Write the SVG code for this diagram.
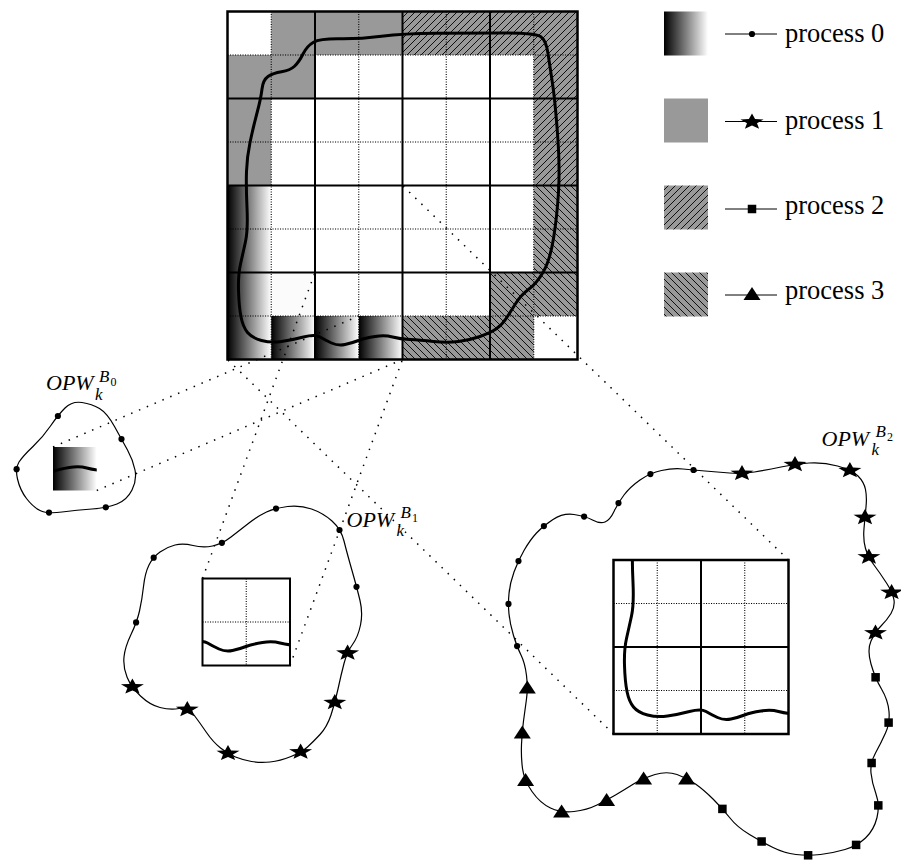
<svg xmlns="http://www.w3.org/2000/svg" width="901" height="860" viewBox="0 0 901 860">
<style>
.thin{fill:none;stroke:#000;stroke-width:1.1;stroke-dasharray:1.1 1.4}
.thick{fill:none;stroke:#000;stroke-width:2}
.border{fill:none;stroke:#000;stroke-width:2.5}
.curve{fill:none;stroke:#000;stroke-width:3;stroke-linejoin:round}
.blob{fill:none;stroke:#000;stroke-width:1.2}
.proj{fill:none;stroke:#000;stroke-width:1.5;stroke-dasharray:1.5 7}
.lg{fill:none;stroke:#000;stroke-width:1}
.mk{fill:#000}
.lbl{font-family:"Liberation Serif","Times New Roman",Times,serif;font-size:26.5px;fill:#000}
.opw{font-family:"Liberation Serif","Times New Roman",Times,serif;font-style:italic;fill:#000}
</style>
<defs>
<linearGradient id="gr" x1="0" y1="0" x2="1" y2="0">
<stop offset="0" stop-color="#000"/><stop offset="1" stop-color="#fff"/>
</linearGradient>
<pattern id="h2" patternUnits="userSpaceOnUse" width="7" height="7">
<rect width="7" height="7" fill="#999"/>
<path d="M0,7 L7,0 M-1,1 L1,-1 M6,8 L8,6" stroke="#000" stroke-width="0.9"/>
</pattern>
<pattern id="h3" patternUnits="userSpaceOnUse" width="7" height="7">
<rect width="7" height="7" fill="#999"/>
<path d="M0,0 L7,7 M-1,6 L1,8 M6,-1 L8,1" stroke="#000" stroke-width="0.9"/>
</pattern>
<path id="bigcurve" d="M540.5,36.5 Q535,33 502.5,33 Q470,33 436.5,33.25 Q403,33.5 381.5,36.25 Q360,39 340,38.75 Q320,38.5 313.5,42.25 Q307,46 303,54 Q299,62 294.5,66.25 Q290,70.5 281.5,71.75 Q273,73 268,76.5 Q263,80 262,89 Q261,98 257,113 Q253,128 250,142.5 Q247,157 246.5,171.5 Q246,186 247,208 Q248,230 245.5,241.5 Q243,253 240.5,264 Q238,275 238.5,291 Q239,307 241,317 Q243,327 247.5,332.5 Q252,338 261.5,340.5 Q271,343 281.5,341.5 Q292,340 303.5,337 Q315,334 320,337 Q325,340 331.5,343 Q338,346 345,344.5 Q352,343 358.5,340.5 Q365,338 375,336.5 Q385,335 392.5,337 Q400,339 410,339.5 Q420,340 433.5,341.5 Q447,343 458.5,341.5 Q470,340 480,336.5 Q490,333 496,329 Q502,325 506.5,318 Q511,311 516,303 Q521,295 529,289 Q537,283 543.5,271.5 Q550,260 553.5,238.5 Q557,217 558.5,192 Q560,167 557.5,133.5 Q555,100 552.5,83.5 Q550,67 548,53.5 Q546,40 540.5,36.5 Z"/>
<path id="star" d="M0,-8.4 L3.1,-2.9 L11.5,-2.6 L5.0,1.2 L7.1,6.8 L0,3.6 L-7.1,6.8 L-5.0,1.2 L-11.5,-2.6 L-3.1,-2.9 Z"/>
<path id="tri" d="M0,-7 L8.5,6 L-8.5,6 Z"/>
<rect id="sq" x="-4.25" y="-4.25" width="8.5" height="8.5"/>
<circle id="dot" r="3.1"/>
<clipPath id="c0"><rect x="53" y="447" width="43.75" height="43.5"/></clipPath>
<clipPath id="c1"><rect x="202.5" y="578.5" width="87.5" height="87"/></clipPath>
<clipPath id="c2"><rect x="613.5" y="560" width="175" height="174"/></clipPath>
</defs>
<rect width="901" height="860" fill="#fff"/>

<g id="grid">
<rect x="227.5" y="11.5" width="350" height="348" fill="#fff"/>
<rect x="271.25" y="11.5" width="131.25" height="43.5" fill="#999"/>
<rect x="227.5" y="55" width="87.5" height="43.5" fill="#999"/>
<rect x="227.5" y="98.5" width="43.75" height="87" fill="#999"/>
<rect x="402.5" y="11.5" width="175" height="43.5" fill="url(#h2)"/>
<rect x="533.75" y="55" width="43.75" height="130.5" fill="url(#h2)"/>
<rect x="533.75" y="185.5" width="43.75" height="130.5" fill="url(#h3)"/>
<rect x="490" y="272.5" width="43.75" height="43.5" fill="url(#h3)"/>
<rect x="402.5" y="316" width="131.25" height="43.5" fill="url(#h3)"/>
<rect x="227.5" y="185.5" width="43.75" height="174" fill="url(#gr)"/>
<rect x="271.25" y="316" width="43.75" height="43.5" fill="url(#gr)"/>
<rect x="315" y="316" width="43.75" height="43.5" fill="url(#gr)"/>
<rect x="358.75" y="316" width="43.75" height="43.5" fill="url(#gr)"/>
<rect x="271.25" y="272.5" width="43.75" height="43.5" fill="#fbfbfb"/>
<path class="thin" d="M271.25,11.5 V359.5 M358.75,11.5 V359.5 M446.25,11.5 V359.5 M533.75,11.5 V359.5 M227.5,55 H577.5 M227.5,142 H577.5 M227.5,229 H577.5 M227.5,316 H577.5"/>
<path class="thick" d="M315,11.5 V359.5 M402.5,11.5 V359.5 M490,11.5 V359.5 M227.5,98.5 H577.5 M227.5,185.5 H577.5 M227.5,272.5 H577.5"/>
<rect class="border" x="227.5" y="11.5" width="350" height="348"/>
<use href="#bigcurve" class="curve"/>
</g>

<g id="legend">
<rect x="664" y="11.5" width="44" height="44" fill="url(#gr)"/>
<rect x="664" y="98.5" width="44" height="44" fill="#999"/>
<rect x="664" y="185.5" width="44" height="44" fill="url(#h2)"/>
<rect x="664" y="272.5" width="44" height="44" fill="url(#h3)"/>
<path class="lg" d="M725,34 H777 M725,121.5 H777 M725,209 H777 M725,295 H777"/>
<use href="#dot" x="752" y="34" class="mk"/>
<use href="#star" x="752" y="122" class="mk"/>
<use href="#sq" x="752" y="209" class="mk"/>
<use href="#tri" x="752" y="294" class="mk"/>
<text class="lbl" x="785" y="42">process 0</text>
<text class="lbl" x="785" y="128.5">process 1</text>
<text class="lbl" x="785" y="214">process 2</text>
<text class="lbl" x="785" y="298.5">process 3</text>
</g>

<g id="blob0">
<path class="blob" d="M65,408 Q72,401 82,402.5 Q92,404 99.5,408.5 Q107,413 114.5,426.5 Q122,440 127.5,450 Q133,460 135,470 Q137,480 132,490 Q127,500 117,504 Q107,508 92,509 Q77,510 62,512 Q47,514 40,510.5 Q33,507 26.5,498.5 Q20,490 17.5,479 Q15,468 19,462 Q23,456 33,446.5 Q43,437 50.5,426 Q58,415 65,408 Z"/>
<rect x="53" y="447" width="43.75" height="43.5" fill="url(#gr)"/>
<g clip-path="url(#c0)"><use href="#bigcurve" class="curve" transform="translate(-305.75,131)"/></g>
<g class="mk">
<use href="#dot" x="121.5" y="439.1"/><use href="#dot" x="105.8" y="507.3"/><use href="#dot" x="49" y="512.6"/><use href="#dot" x="16.6" y="469.2"/><use href="#dot" x="57.9" y="416"/>
</g>
<text class="opw" x="46" y="390" font-size="22">OPW<tspan x="95" y="399.5" font-size="17">k</tspan><tspan x="99" y="382" font-size="17">B</tspan><tspan x="110.5" y="386" font-size="12" font-style="normal">0</tspan></text>
</g>

<g id="blob1">
<path class="blob" d="M149,565 Q153,557 160,552 Q167,547 175,545 Q183,543 193,545.5 Q203,548 212.5,546 Q222,544 231,537 Q240,530 249,523 Q258,516 266.5,512 Q275,508 287.5,506.5 Q300,505 311.5,509 Q323,513 332,521 Q341,529 344,541 Q347,553 352,570.5 Q357,588 360,600.5 Q363,613 360.5,625 Q358,637 352.5,644.5 Q347,652 344,663.5 Q341,675 338,689 Q335,703 331,715 Q327,727 320,734.5 Q313,742 307.5,747 Q302,752 291,756.5 Q280,761 270,762 Q260,763 251.5,761.5 Q243,760 235.5,757 Q228,754 220.5,748 Q213,742 206.5,732.5 Q200,723 194,715 Q188,707 179,708.5 Q170,710 160,707.5 Q150,705 140.5,696 Q131,687 127,677 Q123,667 124,657 Q125,647 131,634.5 Q137,622 139.5,611 Q142,600 143.5,586.5 Q145,573 149,565 Z"/>
<rect x="202.5" y="578.5" width="87.5" height="87" fill="#fff"/>
<path class="thin" d="M246.25,578.5 V665.5 M202.5,622 H290"/>
<g clip-path="url(#c1)"><use href="#bigcurve" class="curve" transform="translate(-112.5,306)"/></g>
<rect x="202.5" y="578.5" width="87.5" height="87" fill="none" stroke="#000" stroke-width="2"/>
<g class="mk">
<use href="#dot" x="153.7" y="557.7"/><use href="#dot" x="221.9" y="542.8"/><use href="#dot" x="276" y="508.6"/><use href="#dot" x="339.5" y="530"/><use href="#dot" x="356.5" y="586.8"/><use href="#dot" x="136.1" y="622.4"/>
<use href="#star" x="347.6" y="653"/><use href="#star" x="334.8" y="702.5"/><use href="#star" x="300.6" y="751.9"/><use href="#star" x="228" y="753.3"/><use href="#star" x="187.3" y="709.4"/><use href="#star" x="132.4" y="686.8"/>
</g>
<text class="opw" x="346.5" y="526.5" font-size="22">OPW<tspan x="396.5" y="535.5" font-size="17">k</tspan><tspan x="400.5" y="517.5" font-size="17">B</tspan><tspan x="412" y="521.5" font-size="12" font-style="normal">1</tspan></text>
</g>

<g id="blob2">
<path class="blob" d="M640,480 Q650,473 661.5,470.5 Q673,468 683,469 Q693,470 705,471 Q717,472 729.5,473 Q742,474 754.5,472 Q767,470 781,467 Q795,464 809,463 Q823,462 837.5,466 Q852,470 858,476 Q864,482 865.5,489.5 Q867,497 866,507 Q865,517 864,528.5 Q863,540 865.5,548.5 Q868,557 874,565 Q880,573 886.5,583 Q893,593 894,600 Q895,607 891,613.5 Q887,620 881,626 Q875,632 871,641 Q867,650 871,664 Q875,678 881.5,689 Q888,700 889,711.5 Q890,723 885.5,733 Q881,743 875.5,753 Q870,763 871,773 Q872,783 876,794 Q880,805 877,817.5 Q874,830 865.5,838 Q857,846 845,849.5 Q833,853 820.5,854.5 Q808,856 796,854.5 Q784,853 773,847.5 Q762,842 749.5,834.5 Q737,827 730,818 Q723,809 713.5,799.5 Q704,790 695.5,784 Q687,778 677,774.5 Q667,771 655,774.5 Q643,778 633.5,784 Q624,790 615.5,795 Q607,800 597,805 Q587,810 574,811.5 Q561,813 550.5,808 Q540,803 532,791.5 Q524,780 522.5,768.5 Q521,757 521.5,744.5 Q522,732 523.5,721 Q525,710 526.5,699 Q528,688 526.5,675.5 Q525,663 521,655 Q517,647 513.5,635.5 Q510,624 509,614 Q508,604 509,593.5 Q510,583 514,572 Q518,561 524,550.5 Q530,540 536.5,533 Q543,526 553,519.5 Q563,513 574,514.5 Q585,516 592.5,520 Q600,524 605,522 Q610,520 614,511.5 Q618,503 624,495 Q630,487 640,480 Z"/>
<rect x="613.5" y="560" width="175" height="174" fill="#fff"/>
<path class="thin" d="M657.25,560 V734 M744.75,560 V734 M613.5,603.5 H788.5 M613.5,690.5 H788.5"/>
<path class="thick" d="M701,560 V734 M613.5,647 H788.5"/>
<g clip-path="url(#c2)"><use href="#bigcurve" class="curve" transform="translate(386,374.5)"/></g>
<rect x="613.5" y="560" width="175" height="174" fill="none" stroke="#000" stroke-width="2.5"/>
<g class="mk">
<use href="#dot" x="650.4" y="474.1"/><use href="#dot" x="693.5" y="470"/><use href="#dot" x="618.5" y="503.1"/><use href="#dot" x="584.1" y="516.6"/><use href="#dot" x="543.9" y="526.1"/><use href="#dot" x="518.5" y="561.1"/><use href="#dot" x="508.5" y="603.9"/><use href="#dot" x="517.1" y="646.1"/>
<use href="#star" x="742" y="473.3"/><use href="#star" x="795" y="464.5"/><use href="#star" x="849.9" y="470.5"/><use href="#star" x="865" y="517.4"/><use href="#star" x="868.9" y="556.9"/><use href="#star" x="891.6" y="592.3"/><use href="#star" x="875.5" y="632.8"/>
<use href="#sq" x="875.6" y="677.3"/><use href="#sq" x="888.6" y="722.6"/><use href="#sq" x="871.6" y="763"/><use href="#sq" x="878.3" y="805.4"/><use href="#sq" x="856.1" y="844.9"/><use href="#sq" x="808.1" y="855.3"/><use href="#sq" x="761.6" y="841.5"/><use href="#sq" x="722.4" y="808.9"/>
<use href="#tri" x="686.6" y="778.6"/><use href="#tri" x="643.6" y="778.6"/><use href="#tri" x="606.6" y="800"/><use href="#tri" x="561.6" y="811.4"/><use href="#tri" x="525.6" y="780"/><use href="#tri" x="522.3" y="732.4"/><use href="#tri" x="527.3" y="687.6"/>
</g>
<text class="opw" x="821.5" y="446" font-size="22">OPW<tspan x="871.5" y="455" font-size="17">k</tspan><tspan x="875.5" y="437" font-size="17">B</tspan><tspan x="887" y="441" font-size="12" font-style="normal">2</tspan></text>
</g>

<g id="connectors">
<path class="proj" d="M53,447 L358.75,316"/>
<path class="proj" d="M96.75,490.5 L402.5,359.5"/>
<path class="proj" d="M202.5,578.5 L315,272.5"/>
<path class="proj" d="M290,665.5 L402.5,359.5"/>
<path class="proj" d="M788.5,560 L402.5,185.5"/>
<path class="proj" d="M613.5,734 L227.5,359.5"/>
</g>
</svg>
